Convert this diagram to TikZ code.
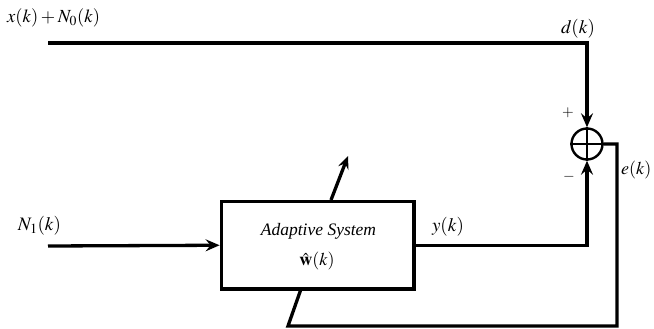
\documentclass[tikz,border=0pt]{standalone}
\usepackage{mathptmx}
\usepackage{fontspec}
\setmainfont{Liberation Serif}
\usetikzlibrary{arrows.meta}
\tikzset{
  wire/.style={line width=3.3pt},
  arr/.style={wire,-{Stealth[length=14pt,width=12pt,inset=5pt]}},
  lbl/.style={inner sep=0pt,font=\fontsize{19}{22}\selectfont},
  sgn/.style={inner sep=0pt,font=\fontsize{15}{17}\selectfont},
}
\begin{document}
\begin{tikzpicture}[x=1pt,y=-1pt]
\useasboundingbox (0,0) rectangle (654,329);
% blocks
\node[draw,line width=3.8pt,minimum width=192.5pt,minimum height=87.5pt,inner sep=0pt] (box) at (317.75,245.25) {};
\node[inner sep=0pt,font=\itshape\fontsize{17.5}{20}\selectfont] (t1) at (318.5,231) {Adaptive System};
\node[inner sep=0pt,font=\fontsize{18}{20}\selectfont] (t2) at (317,261) {$\hat{\mathbf{w}}(k)$};
\node[draw,circle,line width=2.4pt,minimum size=31pt,inner sep=0pt] (s) at (587,144) {};
\draw[line width=2.4pt] (s.north) -- (s.south) (s.west) -- (s.east);
% coordinates
\coordinate (in0) at (48,43);
\coordinate (c1) at (587,43);
\coordinate (in1) at (48,246);
\coordinate (c2) at (617,144);
\coordinate (c3) at (617,326);
\coordinate (c4) at (288,326);
\coordinate (fb) at (301,289);
\coordinate (a0) at (331,200);
\coordinate (a1) at (348,156);
% connectors
\draw[arr] (in0) -- (c1) -- (s.north);
\draw[arr] (in1) -- (box.west);
\draw[arr] (box.east) -| (s.south);
\draw[wire] (s.east) -- (c2) -- (c3) -- (c4) -- (fb);
\draw[wire,-{Stealth[length=13pt,width=11pt,inset=5pt]}] (a0) -- (a1);
% labels
\node[lbl,font=\fontsize{18.5}{22}\selectfont,anchor=west] (lx) at (7,18) {$x(k)+N_0(k)$};
\node[lbl] (ld) at (578,29) {$d(k)$};
\node[lbl] (ln) at (39.5,226) {$N_1(k)$};
\node[lbl] (ly) at (448,227) {$y(k)$};
\node[lbl,font=\fontsize{18}{21}\selectfont,anchor=west] (le) at (621,170) {$e(k)$};
\node[sgn] (lp) at (568,113) {$+$};
\node[sgn] (lm) at (569,177) {$-$};
\end{tikzpicture}
\end{document}
